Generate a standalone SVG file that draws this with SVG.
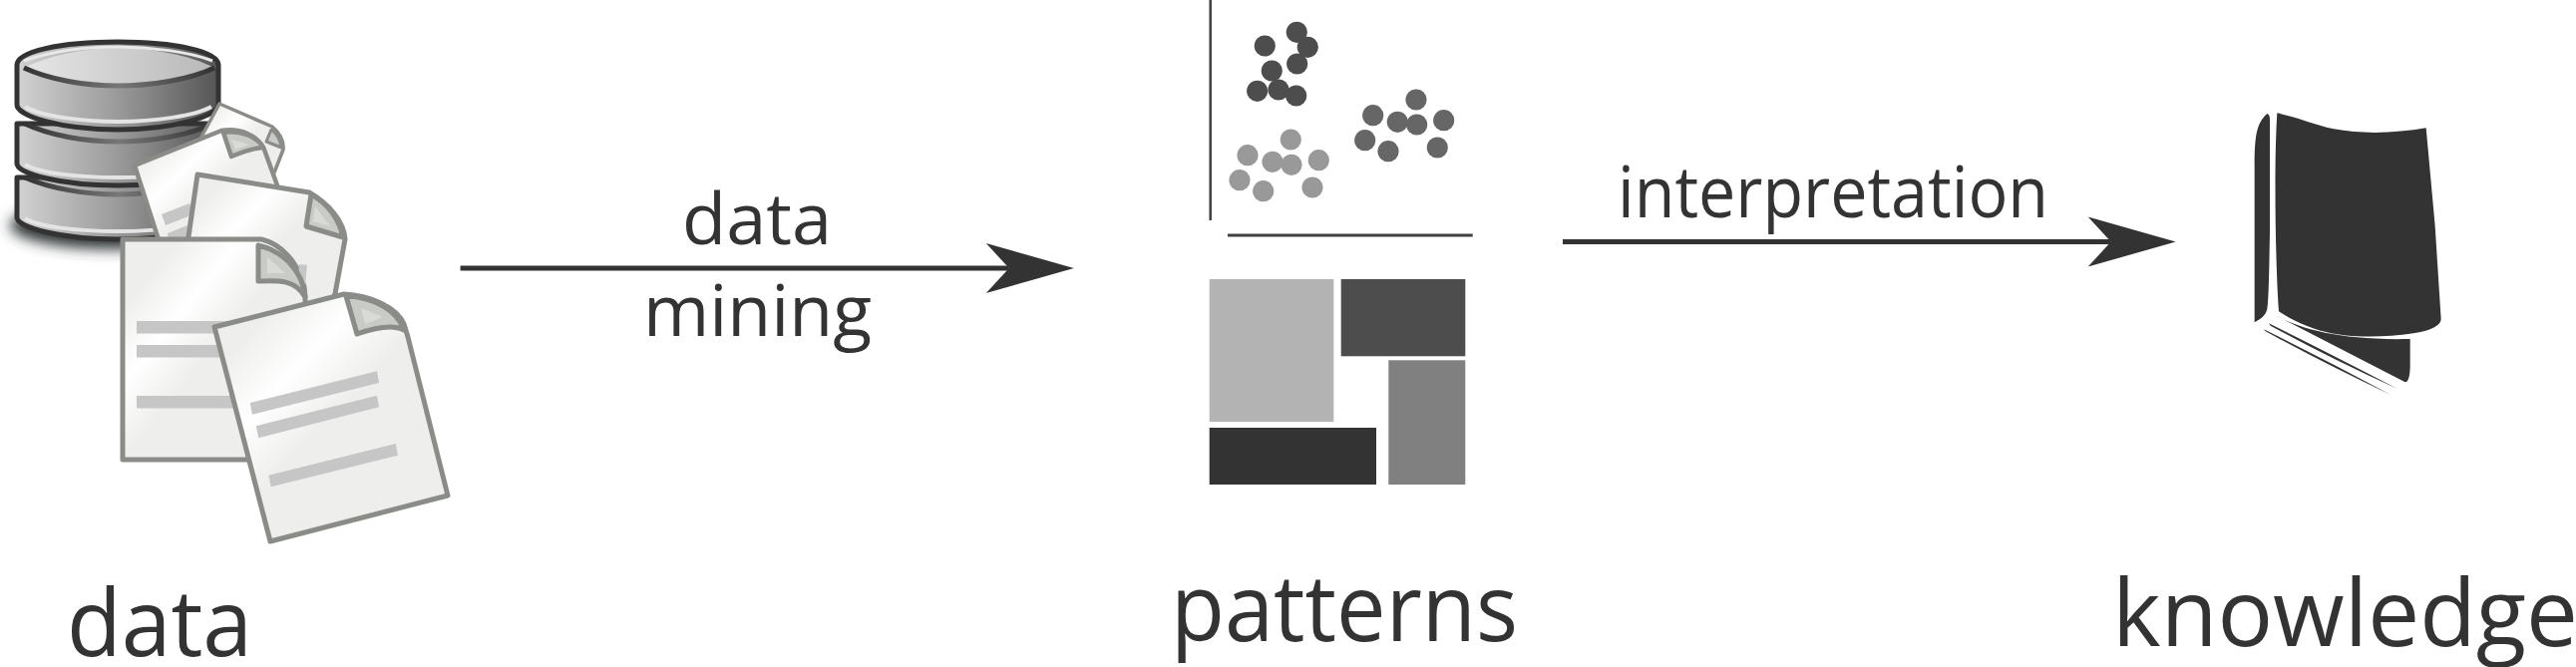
<svg xmlns="http://www.w3.org/2000/svg" width="2583" height="669" viewBox="0 0 2583 669">
<style>
.lbl{font-family:"Open Sans","Noto Sans","Liberation Sans",sans-serif;fill:#333;font-size:93px}
.sm{font-size:72px;font-weight:400}
.side{fill:url(#side);stroke:#333;stroke-width:5;stroke-linejoin:round}
.rim{fill:none;stroke:#e4e4e4;stroke-width:4}
.arc{fill:none;stroke:url(#arc);stroke-width:5}
.doc{fill:url(#paper);stroke:#8a8c88;stroke-width:5;stroke-linejoin:round}
.curl{fill:#c9cbc7;stroke:#8a8c88;stroke-width:5;stroke-linejoin:round}
.curl2{fill:#d9dbd7}
.tl{fill:#c6c6c6}
.d1{fill:#4d4d4d}.d2{fill:#666}.d3{fill:#999}
.ink{fill:#333}
.axis{stroke:#404040;fill:none}
.conn{stroke:#333;stroke-width:5;fill:none;marker-end:url(#head)}
</style>
<defs>
<linearGradient id="side" x1="0" x2="1" y1="0" y2="0"><stop offset="0" stop-color="#d2d2d2"/><stop offset=".5" stop-color="#9a9a9a"/><stop offset="1" stop-color="#555"/></linearGradient>
<linearGradient id="top" x1="0" x2="1" y1="0" y2="0"><stop offset="0" stop-color="#e6e6e6"/><stop offset="1" stop-color="#b8b8b8"/></linearGradient>
<linearGradient id="arc" x1="0" x2="1" y1="0" y2="0"><stop offset="0" stop-color="#333"/><stop offset=".5" stop-color="#777"/><stop offset="1" stop-color="#333"/></linearGradient>
<linearGradient id="paper" x1=".3" y1="0" x2=".65" y2=".35"><stop offset="0" stop-color="#eeeeec"/><stop offset=".5" stop-color="#fff"/><stop offset="1" stop-color="#eeeeec"/></linearGradient>
<filter id="blur" x="-20%" y="-60%" width="140%" height="220%"><feGaussianBlur stdDeviation="7"/></filter>
<marker id="head" markerUnits="userSpaceOnUse" markerWidth="90" markerHeight="52" refX="23" refY="25" orient="auto" overflow="visible"><path d="M0,0L88,25L0,50L23,25Z" fill="#333"/></marker>
</defs>

<g id="node-data">
<ellipse cx="118" cy="226" rx="108" ry="24" fill="#2e3436" filter="url(#blur)"/>
<path class="side" d="M17,178V218C17,228 60,240 118,240C176,240 219,228 219,218V178Z"/>
<path class="rim" d="M25,219C40,228 80,232 118,232C156,232 196,228 212,219"/>
<path class="arc" d="M25,178C50,189 85,195 118,195C151,195 190,189 213,178"/>
<path class="side" d="M17,124V164C17,174 60,186 118,186C176,186 219,174 219,164V124Z"/>
<path class="rim" d="M25,165C40,174 80,178 118,178C156,178 196,174 212,165"/>
<path class="arc" d="M25,124C50,136 85,142 118,142C151,142 190,136 213,124"/>
<path class="side" d="M17,65C17,52 60,42 118,42C176,42 219,52 219,65V105C219,116 175,130 118,130C60,130 17,116 17,105Z"/>
<path class="rim" d="M25,107C40,116 80,122 118,122C156,122 196,116 212,107"/>
<path d="M24,68C50,80 85,86 118,86C151,86 190,80 215,68C190,55 151,48 118,48C85,48 50,55 24,68Z" fill="url(#top)"/>
<path d="M24,61C50,52 85,47 118,47C151,47 190,52 213,61" fill="none" stroke="#e8e8e8" stroke-width="3"/>
<path class="arc" d="M24,68C50,80 85,86 118,86C151,86 190,80 215,68"/>

<path class="doc" style="stroke-width:3.5" d="M220,104L273,127C280,133 285,140 284,150L275,173L260,195L195,150Z"/>
<path class="curl" style="stroke-width:3" d="M272,130L267,142L282,148C281,140 278,134 272,130Z"/>

<path class="doc" style="stroke-width:4.5" d="M135,166L222,131C240,128 258,135 265,150L278,186L240,262H166Z"/>
<path class="curl" style="stroke-width:4.5" d="M224,133L232,157C242,153 254,148 264,148C258,137 240,130 224,133Z"/>
<polygon class="curl2" points="232,140 236,150 250,145"/>
<polygon class="tl" points="162,215 190,204 194,215 166,226"/>
<polygon class="tl" points="168,234 188,226 192,237 170,246"/>

<path class="doc" d="M198,175L310,193C330,205 345,222 346,240L335,300L320,345L180,300Z"/>
<path class="curl" d="M312,195L307,227L344,238C340,220 330,205 312,195Z"/>
<polygon class="curl2" points="316,207 314,222 331,227"/>

<path class="doc" d="M123,240H262C285,245 306,272 306,298V461H123Z"/>
<polygon class="tl" points="300,265 308,266 306,287 298,287"/>
<path class="curl" d="M259,246V282C278,281 296,280 306,298C304,272 284,252 259,246Z"/>
<polygon class="curl2" points="268,258 268,274 286,274"/>
<rect class="tl" x="137" y="322" width="110" height="12.5"/>
<rect class="tl" x="137" y="346" width="110" height="12.5"/>
<rect class="tl" x="137" y="397" width="110" height="12.5"/>

<path class="doc" d="M215,328L345,295C370,296 398,308 405,325L409,338L449,497L271,543Z"/>
<path class="curl" d="M347,297L358,335C372,330 392,324 405,331C398,311 375,298 347,297Z"/>
<polygon class="curl2" points="362,309 366,325 384,318"/>
<polygon class="tl" points="250.7,404 378,372.3 380,384 253,415.7"/>
<polygon class="tl" points="256.7,427.3 378,396.7 380,408.3 259.3,439.3"/>
<polygon class="tl" points="269.3,476.7 396.7,445 399,456.7 271.7,488.3"/>
<text class="lbl" x="67" y="657.7" textLength="186" lengthAdjust="spacingAndGlyphs">data</text>
</g>

<g id="node-patterns">
<path class="axis" stroke-width="2.5" d="M1213.7,0V221"/>
<path class="axis" stroke-width="3" d="M1231,236H1476.7"/>
<g id="cluster-dark" class="d1">
<circle cx="1268.3" cy="46" r="10.6"/><circle cx="1300.3" cy="32.3" r="10.6"/><circle cx="1311.3" cy="47.3" r="10.6"/><circle cx="1300.7" cy="64" r="10.6"/><circle cx="1275.3" cy="71" r="10.6"/><circle cx="1260.7" cy="91.3" r="10.6"/><circle cx="1282" cy="90" r="10.6"/><circle cx="1299.7" cy="96" r="10.6"/>
</g>
<g id="cluster-mid" class="d2">
<circle cx="1420" cy="100" r="10.6"/><circle cx="1376.7" cy="115.7" r="10.6"/><circle cx="1401.3" cy="122.3" r="10.6"/><circle cx="1420.7" cy="125" r="10.6"/><circle cx="1447.7" cy="120.7" r="10.6"/><circle cx="1368.7" cy="140.7" r="10.6"/><circle cx="1392" cy="151.7" r="10.6"/><circle cx="1441.3" cy="148" r="10.6"/>
</g>
<g id="cluster-light" class="d3">
<circle cx="1294.3" cy="140" r="10.6"/><circle cx="1251" cy="155.7" r="10.6"/><circle cx="1276" cy="162.3" r="10.6"/><circle cx="1295" cy="165.3" r="10.6"/><circle cx="1322.3" cy="160.7" r="10.6"/><circle cx="1243" cy="180.7" r="10.6"/><circle cx="1266.7" cy="191.7" r="10.6"/><circle cx="1316" cy="188" r="10.6"/>
</g>
<rect x="1212.7" y="280" width="124.6" height="143" fill="#b3b3b3"/>
<rect x="1344.7" y="280" width="124.6" height="77.3" fill="#4d4d4d"/>
<rect x="1392.3" y="361.3" width="77" height="124.7" fill="#808080"/>
<rect x="1212.7" y="429" width="167.3" height="57" fill="#333"/>
<text class="lbl" x="1174" y="643.3" textLength="348" lengthAdjust="spacingAndGlyphs">patterns</text>
</g>

<g id="node-knowledge">
<g transform="translate(2220 100) scale(.33333)" class="ink">
<path d="M122,670L122,200C122,110 128,70 160,42C166,44 168,50 168,60L168,400C166,500 165,600 160,630C155,650 140,660 122,670Z"/>
<path d="M190,40C250,52 300,75 360,88C450,105 550,100 638,85L665,380L683,660C683,680 650,695 600,703C500,718 400,715 340,700C280,685 230,660 195,637C185,500 180,200 190,40Z"/>
<path d="M187,650C260,690 380,725 590,720L590,800C590,830 585,850 575,850Z"/>
<path d="M165,673Q350,765 552,870Q350,778 170,680Z"/>
<path d="M150,691Q340,785 532,888Q340,798 155,697Z"/>
</g>
<text class="lbl" x="2118" y="648.3" textLength="467" lengthAdjust="spacingAndGlyphs">knowledge</text>
</g>

<g id="connectors">
<path class="conn" d="M461.6,269H1011.8"/>
<path class="conn" d="M1567,242.5H2116.7"/>
<text class="lbl sm" x="684" y="245" textLength="150" lengthAdjust="spacingAndGlyphs">data</text>
<text class="lbl sm" x="645" y="336.7" textLength="229" lengthAdjust="spacingAndGlyphs">mining</text>
<text class="lbl sm" x="1622" y="218.3" textLength="432" lengthAdjust="spacingAndGlyphs">interpretation</text>
</g>
</svg>
